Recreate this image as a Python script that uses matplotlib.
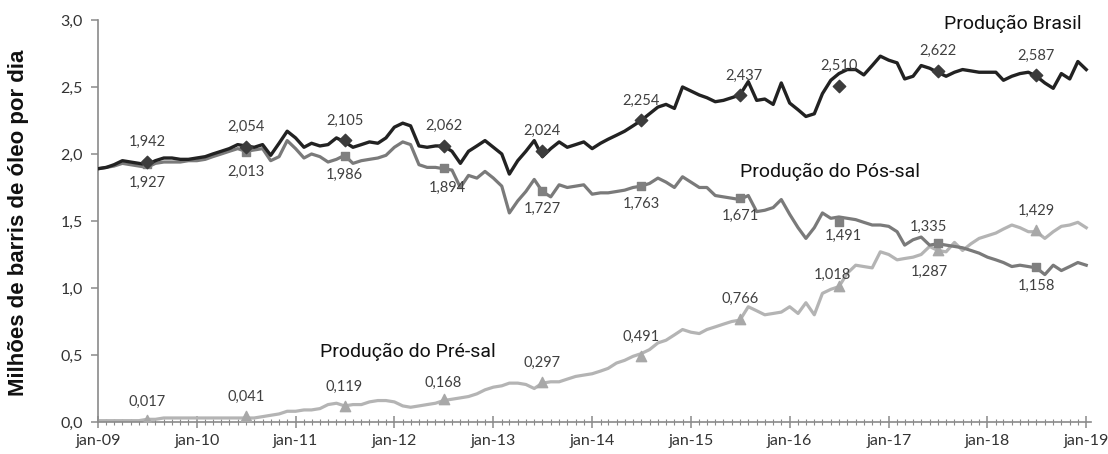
import numpy as np
import pandas as pd
import matplotlib
matplotlib.use('Agg')
import matplotlib.pyplot as plt
import matplotlib.dates as mdates
from matplotlib import font_manager

# Produção mensal (milhões de barris de óleo por dia), jan-09 .. jan-19
meses = pd.date_range('2009-01-01', '2019-01-01', freq='MS')

brasil = [
    1.89, 1.90, 1.92, 1.95, 1.94, 1.93, 1.92, 1.95, 1.97, 1.97, 1.96, 1.96,
    1.97, 1.98, 2.00, 2.02, 2.04, 2.07, 2.06, 2.05, 2.07, 1.99, 2.08, 2.17,
    2.12, 2.05, 2.08, 2.06, 2.07, 2.12, 2.09, 2.05, 2.07, 2.09, 2.08, 2.12,
    2.20, 2.23, 2.21, 2.06, 2.05, 2.06, 2.06, 2.02, 1.93, 2.02, 2.06, 2.10,
    2.05, 2.00, 1.85, 1.95, 2.02, 2.10, 1.98, 2.04, 2.09, 2.05, 2.07, 2.09,
    2.04, 2.08, 2.11, 2.14, 2.17, 2.21, 2.25, 2.30, 2.35, 2.37, 2.34, 2.50,
    2.47, 2.44, 2.42, 2.39, 2.40, 2.42, 2.44, 2.54, 2.40, 2.41, 2.37, 2.53,
    2.38, 2.33, 2.28, 2.30, 2.45, 2.55, 2.60, 2.63, 2.63, 2.59, 2.66, 2.73,
    2.70, 2.68, 2.56, 2.58, 2.66, 2.64, 2.61, 2.58, 2.61, 2.63, 2.62, 2.61,
    2.61, 2.61, 2.55, 2.58, 2.60, 2.61, 2.58, 2.53, 2.49, 2.60, 2.56, 2.69,
    2.63,
]

pos_sal = [
    1.89, 1.90, 1.91, 1.93, 1.92, 1.91, 1.90, 1.93, 1.94, 1.94, 1.94, 1.95,
    1.95, 1.96, 1.98, 2.00, 2.02, 2.04, 2.02, 2.03, 2.04, 1.95, 1.98, 2.10,
    2.04, 1.97, 2.00, 1.98, 1.94, 1.96, 1.99, 1.93, 1.95, 1.96, 1.97, 1.99,
    2.05, 2.09, 2.07, 1.92, 1.90, 1.90, 1.89, 1.88, 1.75, 1.84, 1.82, 1.87,
    1.82, 1.76, 1.56, 1.65, 1.72, 1.81, 1.72, 1.68, 1.77, 1.75, 1.76, 1.77,
    1.70, 1.71, 1.71, 1.72, 1.73, 1.75, 1.76, 1.78, 1.82, 1.79, 1.75, 1.83,
    1.79, 1.75, 1.75, 1.69, 1.68, 1.67, 1.66, 1.69, 1.57, 1.58, 1.60, 1.66,
    1.55, 1.45, 1.37, 1.45, 1.56, 1.52, 1.53, 1.52, 1.51, 1.49, 1.47, 1.47,
    1.46, 1.42, 1.32, 1.36, 1.38, 1.32, 1.33, 1.32, 1.31, 1.30, 1.28, 1.26,
    1.23, 1.21, 1.19, 1.16, 1.17, 1.16, 1.15, 1.10, 1.17, 1.13, 1.16, 1.19,
    1.17,
]

pre_sal = [
    0.01, 0.01, 0.01, 0.01, 0.01, 0.01, 0.02, 0.02, 0.03, 0.03, 0.03, 0.03,
    0.03, 0.03, 0.03, 0.03, 0.03, 0.03, 0.03, 0.03, 0.04, 0.05, 0.06, 0.08,
    0.08, 0.09, 0.09, 0.10, 0.13, 0.14, 0.12, 0.13, 0.13, 0.15, 0.16, 0.16,
    0.15, 0.12, 0.11, 0.12, 0.13, 0.14, 0.16, 0.17, 0.18, 0.19, 0.21, 0.24,
    0.26, 0.27, 0.29, 0.29, 0.28, 0.25, 0.29, 0.30, 0.30, 0.32, 0.34, 0.35,
    0.36, 0.38, 0.40, 0.44, 0.46, 0.49, 0.51, 0.54, 0.59, 0.61, 0.65, 0.69,
    0.67, 0.66, 0.69, 0.71, 0.73, 0.75, 0.76, 0.86, 0.83, 0.80, 0.81, 0.82,
    0.86, 0.81, 0.89, 0.80, 0.96, 0.99, 1.01, 1.11, 1.17, 1.16, 1.15, 1.27,
    1.25, 1.21, 1.22, 1.23, 1.25, 1.31, 1.28, 1.27, 1.34, 1.28, 1.33, 1.37,
    1.39, 1.41, 1.44, 1.47, 1.45, 1.42, 1.42, 1.37, 1.42, 1.46, 1.47, 1.49,
    1.45,
]

# médias anuais, marcadas em julho de cada ano
anos = list(range(2009, 2019))
media_brasil = [1.942, 2.054, 2.105, 2.062, 2.024, 2.254, 2.437, 2.510, 2.622, 2.587]
media_pos = [1.927, 2.013, 1.986, 1.894, 1.727, 1.763, 1.671, 1.491, 1.335, 1.158]
media_pre = [0.017, 0.041, 0.119, 0.168, 0.297, 0.491, 0.766, 1.018, 1.287, 1.429]

anos_ticks = list(range(2009, 2020))
rotulos_x = ['jan-%02d' % (a % 100) for a in anos_ticks]
rotulos_y = ['0,0', '0,5', '1,0', '1,5', '2,0', '2,5', '3,0']

# deslocamentos dos rótulos (pontos)
off_brasil = [(0, 14), (0, 14), (0, 14), (0, 14), (0, 14), (0, 14), (3, 14), (0, 14), (0, 14), (0, 14)]
off_pos = [(0, -14), (0, -14), (0, -14), (3, -14), (0, -13), (0, -13), (0, -13), (3, -10), (-7, 12), (0, -14)]
off_pre = [(0, 13), (0, 14), (0, 14), (0, 12), (0, 14), (0, 14), (0, 15), (-5, 8), (-6, -16), (0, 14)]

c_brasil = '#222222'
c_pos = '#7a7a7a'
c_pre = '#b4b4b4'

nomes = {f.name for f in font_manager.fontManager.ttflist}
estreita = 'Liberation Sans Narrow' if 'Liberation Sans Narrow' in nomes else 'Roboto'
f_rot = ['Lato', 'DejaVu Sans']
f_nome = [estreita, 'DejaVu Sans']

fig = plt.figure(figsize=(11.08, 4.54), dpi=100)
ax = fig.add_axes([0.0885, 0.0705, 0.8965, 0.8855])

ax.plot(meses, pre_sal, color=c_pre, lw=2.3, zorder=2, solid_joinstyle='round')
ax.plot(meses, pos_sal, color=c_pos, lw=2.3, zorder=3, solid_joinstyle='round')
ax.plot(meses, brasil, color=c_brasil, lw=2.4, zorder=4, solid_joinstyle='round')

julhos = [pd.Timestamp(a, 7, 1) for a in anos]
ax.scatter(julhos, media_pre, marker='^', s=55, color='#a8a8a8', zorder=5)
ax.scatter(julhos, media_pos, marker='s', s=40, color='#808080', zorder=6)
ax.scatter(julhos, media_brasil, marker='D', s=40, color='#3c3c3c', zorder=7)

def rotular(valores, offs):
    for d, v, o in zip(julhos, valores, offs):
        ax.annotate(('%.3f' % v).replace('.', ','), (d, v), xytext=o,
                    textcoords='offset points', ha='center', va='center',
                    fontsize=10.5, color='#404040', family=f_rot, zorder=8)

rotular(media_brasil, off_brasil)
rotular(media_pos, off_pos)
rotular(media_pre, off_pre)

fig.text(1013 / 1108, 1 - 24 / 454, 'Produção Brasil', ha='center', va='center',
         fontsize=14, family=f_nome, color='#111111')
fig.text(830 / 1108, 1 - 172 / 454, 'Produção do Pós-sal', ha='center', va='center',
         fontsize=14, family=f_nome, color='#111111')
fig.text(408 / 1108, 1 - 352 / 454, 'Produção do Pré-sal', ha='center', va='center',
         fontsize=14, family=f_nome, color='#111111')

fig.text(0.017, 0.51, 'Milhões de barris de óleo por dia', rotation=90,
         ha='center', va='center', fontsize=16, fontweight='bold',
         family=['Liberation Sans', 'DejaVu Sans'], color='#111111')

ax.set_ylim(0, 3)
ax.set_yticks(np.arange(0, 3.01, 0.5))
ax.set_yticklabels(rotulos_y, family=f_rot, fontsize=11.5, color='#333333')
ax.set_xlim(meses[0], pd.Timestamp(2019, 1, 20))
ax.set_xticks([pd.Timestamp(a, 1, 1) for a in anos_ticks])
ax.set_xticklabels(rotulos_x, family=f_rot, fontsize=11.5, color='#333333')
ax.xaxis.set_minor_locator(mdates.MonthLocator())

for s in ['top', 'right']:
    ax.spines[s].set_visible(False)
for s in ['left', 'bottom']:
    ax.spines[s].set_color('#8a8a8a')
    ax.spines[s].set_linewidth(1.2)

ax.tick_params(axis='x', which='major', direction='inout', length=9, width=1.1,
               color='#8a8a8a', pad=4)
ax.tick_params(axis='x', which='minor', direction='inout', length=5, width=0.8,
               color='#8a8a8a')
ax.tick_params(axis='y', which='major', direction='out', length=5, width=1.1,
               color='#8a8a8a', pad=6)

fig.savefig('out.png', dpi=100)
